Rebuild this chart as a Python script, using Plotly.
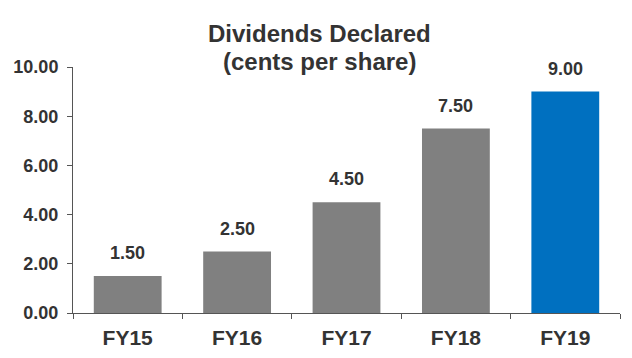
import plotly.graph_objects as go

categories = ["FY15", "FY16", "FY17", "FY18", "FY19"]
dividends = [1.50, 2.50, 4.50, 7.50, 9.00]
bar_colors = ["#808080", "#808080", "#808080", "#808080", "#0070C0"]
y_ticks = [0, 2, 4, 6, 8, 10]
y_tick_labels = ["0.00", "2.00", "4.00", "6.00", "8.00", "10.00"]
title_lines = ["Dividends Declared", "(cents per share)"]

FONT = "Liberation Sans, Arial, sans-serif"
TXT = "#333333"

fig = go.Figure()
fig.add_trace(go.Bar(
    x=categories, y=dividends,
    marker=dict(color=bar_colors, line=dict(width=0)),
    width=0.62,
))

for c, v in zip(categories, dividends):
    fig.add_annotation(x=c, y=v, text=f"<b>{v:.2f}</b>", showarrow=False,
                       yanchor="middle", yshift=23,
                       font=dict(family=FONT, size=18, color=TXT))

for line, ty in zip(title_lines, [1.138, 1.022]):
    fig.add_annotation(xref="paper", yref="paper", x=0.451, y=ty,
                       text=f"<b>{line}</b>", showarrow=False,
                       xanchor="center", yanchor="middle",
                       font=dict(family=FONT, size=24, color=TXT))

fig.update_layout(
    width=624, height=350,
    margin=dict(l=65, r=12, t=59, b=45, autoexpand=False),
    paper_bgcolor="white", plot_bgcolor="white",
    showlegend=False,
    xaxis=dict(
        showline=True, linecolor="#555555", linewidth=1,
        ticks="outside", tickson="boundaries", ticklen=5, tickcolor="#555555",
        tickfont=dict(family=FONT, size=21, color=TXT),
        tickprefix="<b>", ticksuffix="</b>",
        ticklabelstandoff=6, automargin=False,
        showgrid=False,
    ),
    yaxis=dict(
        range=[0, 10], tickvals=y_ticks, ticktext=[f"<b>{t}</b>" for t in y_tick_labels],
        showline=True, linecolor="#555555", linewidth=1,
        ticks="outside", ticklen=5, tickcolor="#555555",
        tickfont=dict(family=FONT, size=18, color=TXT),
        ticklabelstandoff=5, automargin=False,
        showgrid=False, zeroline=False,
    ),
)

fig.write_html("out.html")
